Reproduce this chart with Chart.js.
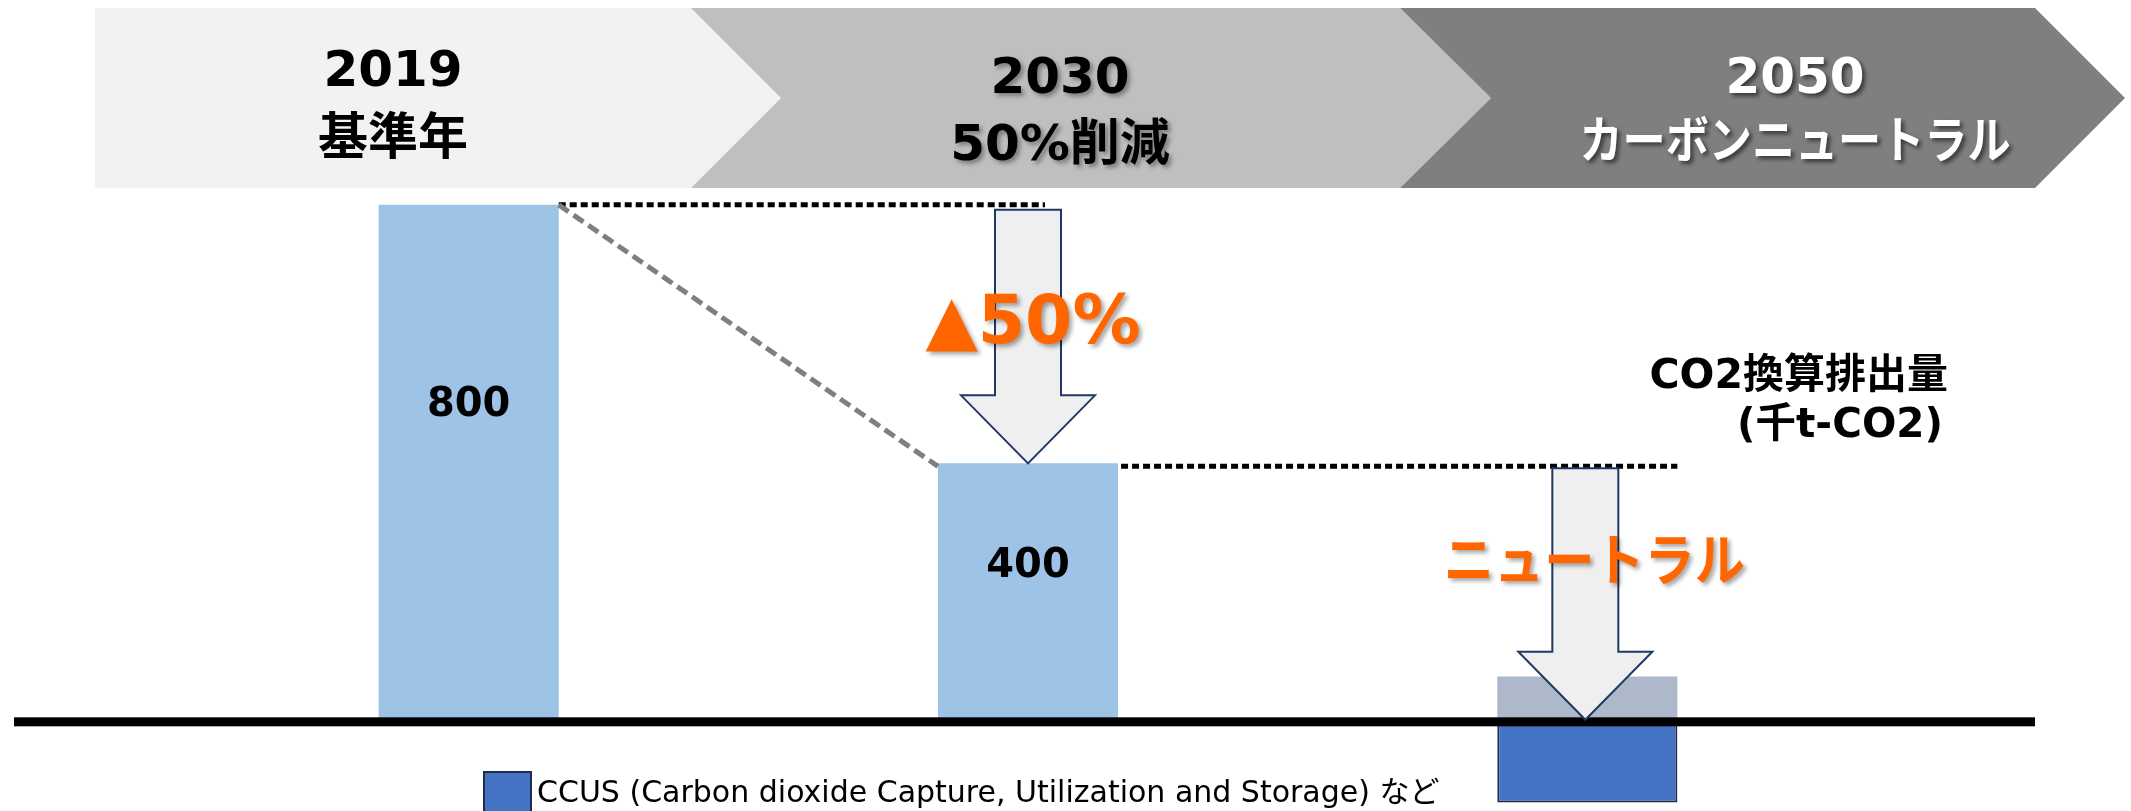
<!DOCTYPE html>
<html>
<head>
<meta charset="utf-8">
<script src="https://cdn.jsdelivr.net/npm/chart.js@4.4.1/dist/chart.umd.min.js"></script>
<style>
  html, body { margin: 0; padding: 0; background: #ffffff; overflow: hidden; }
  #co2Chart { display: block; }
</style>
</head>
<body>
<canvas id="co2Chart" width="2131" height="811"></canvas>
<script>
// years on the banner and the goal for each stage
const categories = ['2019', '2030', '2050'];
const stageTitles = ['基準年', '50%削減', 'カーボンニュートラル'];
// CO2 emissions (thousand t-CO2) and CCUS removal
const emissions = [800, 400, 70];
const ccus = [null, null, -125];
const valueLabels = ['800', '400', ''];
const barColors = ['#9DC3E6', '#9DC3E6', '#ADB9CA'];

const SANS = '"DejaVu Sans", "Noto Sans CJK JP", sans-serif';
const JP = '"Noto Sans CJK JP", "DejaVu Sans", sans-serif';

function shadowOn(c, col) {
  c.shadowColor = col || 'rgba(0,0,0,0.4)';
  c.shadowOffsetX = 3;
  c.shadowOffsetY = 3;
  c.shadowBlur = 4;
}
function shadowOff(c) {
  c.shadowColor = 'rgba(0,0,0,0)';
  c.shadowOffsetX = 0;
  c.shadowOffsetY = 0;
  c.shadowBlur = 0;
}

function poly(c, pts, color) {
  c.beginPath();
  c.moveTo(pts[0][0], pts[0][1]);
  for (let i = 1; i < pts.length; i++) c.lineTo(pts[i][0], pts[i][1]);
  c.closePath();
  c.fillStyle = color;
  c.fill();
}

function drawDownArrow(c, cx, top, tip) {
  const sw = 33, hw = 67, hh = 68;
  c.beginPath();
  c.moveTo(cx - sw, top);
  c.lineTo(cx + sw, top);
  c.lineTo(cx + sw, tip - hh);
  c.lineTo(cx + hw, tip - hh);
  c.lineTo(cx, tip);
  c.lineTo(cx - hw, tip - hh);
  c.lineTo(cx - sw, tip - hh);
  c.closePath();
  c.fillStyle = '#EFEFEF';
  c.fill();
  c.lineWidth = 2;
  c.strokeStyle = '#1F3864';
  c.stroke();
}

function line(c, x1, y1, x2, y2, color, width, dash) {
  c.save();
  c.beginPath();
  c.setLineDash(dash);
  c.moveTo(x1, y1);
  c.lineTo(x2, y2);
  c.lineWidth = width;
  c.strokeStyle = color;
  c.stroke();
  c.restore();
}

// banner (chevrons) behind the bars, notes on top of them
const bannerPlugin = {
  id: 'banner',
  beforeDatasetsDraw(chart) {
    const c = chart.ctx;
    c.save();
    poly(c, [[95, 8], [691, 8], [781, 98], [691, 188], [95, 188]], '#F2F2F2');
    poly(c, [[691, 8], [1400, 8], [1491, 98], [1400, 188], [691, 188], [781, 98]], '#BFBFBF');
    poly(c, [[1400, 8], [2035, 8], [2125, 98], [2035, 188], [1400, 188], [1491, 98]], '#7F7F7F');

    const cx = [393, 1060, 1795];
    const y1 = [86, 93, 93];
    const y2 = [154, 160, 158];
    const col = ['#000000', '#000000', '#ffffff'];
    c.textAlign = 'center';
    c.textBaseline = 'alphabetic';
    for (let i = 0; i < categories.length; i++) {
      if (i > 0) shadowOn(c, i === 2 ? 'rgba(0,0,0,0.55)' : 'rgba(0,0,0,0.35)');
      c.fillStyle = col[i];
      c.font = 'bold 50px ' + SANS;
      c.fillText(categories[i], cx[i], y1[i]);
      c.fillText(stageTitles[i], cx[i], y2[i], i === 2 ? 431 : 240);
      shadowOff(c);
    }
    c.restore();
  },
  afterDatasetsDraw(chart) {
    const c = chart.ctx;
    const y = chart.scales.y;
    const bars = chart.getDatasetMeta(0).data;
    const b1 = bars[0], b2 = bars[1], b3 = bars[2];
    const zero = y.getPixelForValue(0);
    c.save();

    // base line
    c.fillStyle = '#000000';
    c.fillRect(14, zero - 4.5, 2021, 9);

    // guide lines
    line(c, b1.x + b1.width / 2, b1.y, b2.x + 17, b1.y, '#000000', 5, [7, 4]);
    line(c, b1.x + b1.width / 2, b1.y, b2.x - b2.width / 2, b2.y + 3, '#7F7F7F', 5, [12, 6]);
    line(c, b2.x + b2.width / 2 + 3, b2.y + 3, b3.x + b3.width / 2, b2.y + 3, '#000000', 5, [7, 4]);

    // arrows
    drawDownArrow(c, b2.x, b1.y + 5, b2.y);
    drawDownArrow(c, b3.x - 2, b2.y + 5, zero - 2);

    // value labels
    c.textAlign = 'center';
    c.textBaseline = 'alphabetic';
    c.fillStyle = '#000000';
    c.font = 'bold 40px ' + SANS;
    for (let i = 0; i < 2; i++) {
      const yy = y.getPixelForValue(emissions[i] * 0.62);
      c.fillText(valueLabels[i], bars[i].x, yy + 15);
    }

    // orange call-outs
    shadowOn(c, 'rgba(0,0,0,0.35)');
    c.fillStyle = '#FF6600';
    c.font = 'bold 68px ' + SANS;
    c.fillText('▲50%', b2.x + 5, 343);
    c.font = 'bold 56px ' + JP;
    c.fillText('ニュートラル', b3.x + 7, 580, 301);
    shadowOff(c);

    // unit note
    c.fillStyle = '#000000';
    c.textAlign = 'right';
    c.font = 'bold 41px ' + SANS;
    c.fillText('CO2換算排出量', 1948, 388, 303);
    c.fillText('(千t-CO2)', 1943, 437, 206);

    // legend
    c.fillStyle = '#4472C4';
    c.fillRect(484, 772, 47, 47);
    c.lineWidth = 2;
    c.strokeStyle = '#1F2D4D';
    c.strokeRect(484, 772, 47, 47);
    c.fillStyle = '#000000';
    c.textAlign = 'left';
    c.font = '30px ' + SANS;
    c.fillText('CCUS (Carbon dioxide Capture, Utilization and Storage) など', 537, 802, 916);
    c.restore();
  }
};

const ctx = document.getElementById('co2Chart');
let myChart = new Chart(ctx, {
  type: 'bar',
  data: {
    labels: categories,
    datasets: [{
      label: 'CO2換算排出量',
      data: emissions,
      backgroundColor: barColors,
      borderWidth: 0,
      stack: 's'
    }, {
      label: 'CCUS',
      data: ccus,
      backgroundColor: '#4472C4',
      borderColor: '#1F2D4D',
      borderWidth: 2,
      stack: 's'
    }]
  },
  options: {
    responsive: false,
    animation: false,
    devicePixelRatio: 1,
    layout: { padding: { left: 189, right: 264, top: 0, bottom: 0 } },
    datasets: { bar: { categoryPercentage: 0.322, barPercentage: 1 } },
    plugins: {
      legend: { display: false },
      tooltip: { enabled: false }
    },
    scales: {
      x: { display: false, stacked: true },
      y: { display: false, stacked: true, min: -138, max: 1117 }
    }
  },
  plugins: [bannerPlugin]
});
</script>
</body>
</html>
